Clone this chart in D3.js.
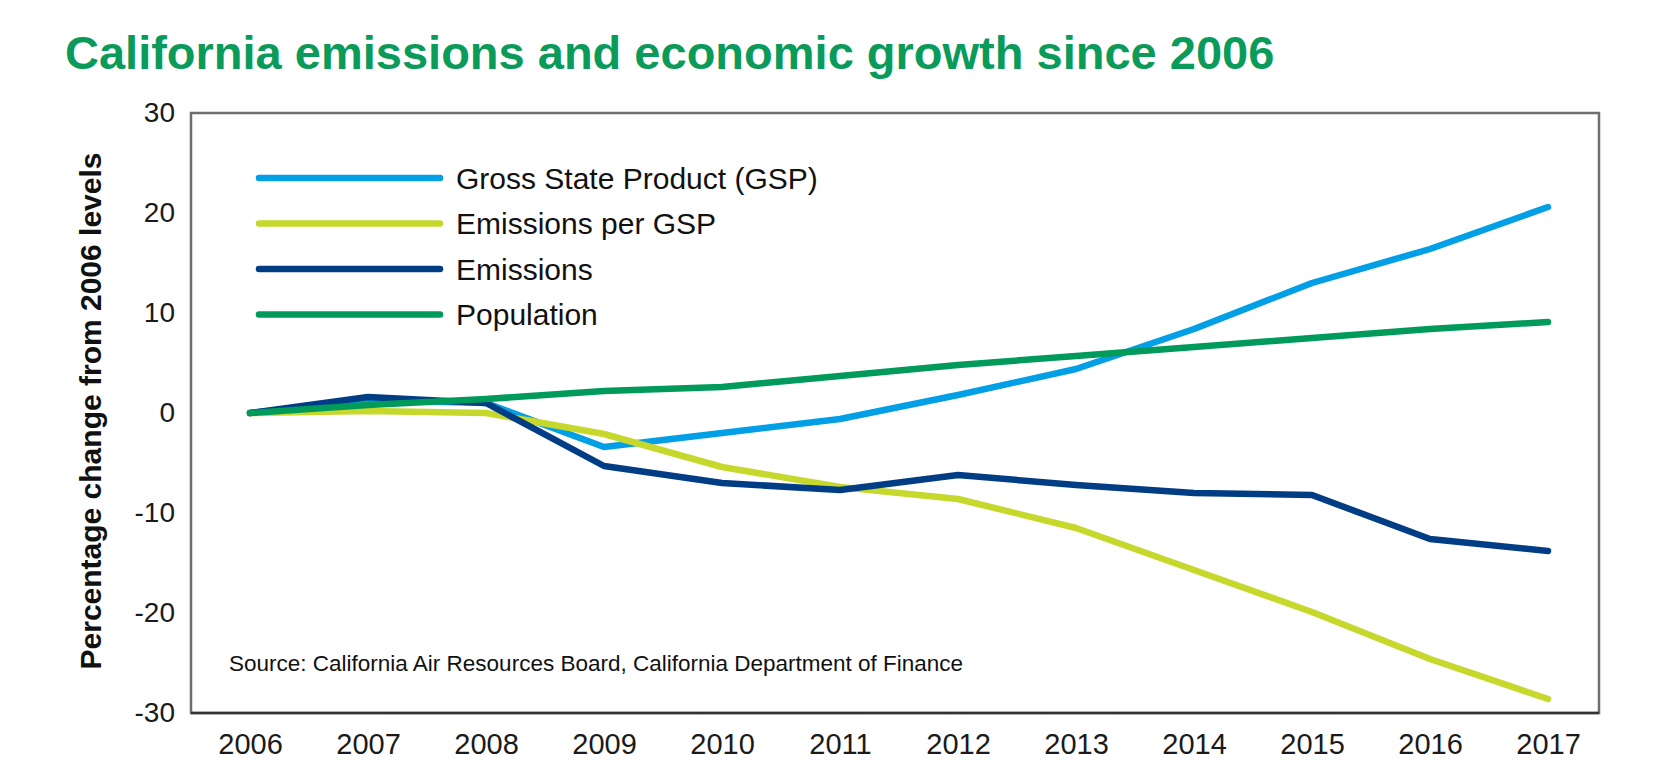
<!DOCTYPE html>
<html>
<head>
<meta charset="utf-8">
<script src="https://cdn.jsdelivr.net/npm/d3@7"></script>
<style>
body{margin:0;background:#fff;}
svg{font-family:"Liberation Sans",Arial,sans-serif;}
</style>
</head>
<body>
<svg></svg>
<script>
// data (percent change from 2006)
const years = ["2006","2007","2008","2009","2010","2011","2012","2013","2014","2015","2016","2017"];
const gsp = [0, 1.3, 1.0, -3.4, -2.0, -0.6, 1.8, 4.4, 8.4, 13.0, 16.4, 20.6];
const emissionsPerGsp = [0, 0.2, 0.0, -2.1, -5.4, -7.4, -8.6, -11.5, -15.7, -19.9, -24.6, -28.6];
const emissions = [0, 1.6, 1.0, -5.3, -7.0, -7.7, -6.2, -7.2, -8.0, -8.2, -12.6, -13.8];
const population = [0, 0.8, 1.4, 2.2, 2.6, 3.7, 4.8, 5.7, 6.6, 7.5, 8.4, 9.1];
const seriesNames = ["Gross State Product (GSP)","Emissions per GSP","Emissions","Population"];
const yTicks = [30, 20, 10, 0, -10, -20, -30];

const w = 1655, h = 780;
const plotLeft = 191, plotRight = 1599, plotTop = 113, plotBottom = 713;

const svg = d3.select("svg").attr("width", w).attr("height", h);

const series = [
  {name: seriesNames[0], values: gsp, color: "#009fe6"},
  {name: seriesNames[1], values: emissionsPerGsp, color: "#c5d82b"},
  {name: seriesNames[2], values: emissions, color: "#003d85"},
  {name: seriesNames[3], values: population, color: "#009a5b"}
];

const xScale = d3.scalePoint().domain(years).range([250, 1548]);
const yScale = d3.scaleLinear().domain([-30, 30]).range([plotBottom, plotTop]);

// title
svg.append("text")
  .attr("x", 65).attr("y", 69)
  .attr("font-size", 47).attr("font-weight", "bold")
  .attr("fill", "#0a9b5a")
  .text("California emissions and economic growth since 2006");

// frame
svg.append("rect")
  .attr("x", plotLeft).attr("y", plotTop)
  .attr("width", plotRight - plotLeft).attr("height", plotBottom - plotTop)
  .attr("fill", "none").attr("stroke", "#6e6e6e").attr("stroke-width", 2.5);

// axes (plain hyphen for negatives, like the original)
let yAxis = d3.axisLeft(yScale).tickValues(yTicks).tickSize(0).tickPadding(16).tickFormat(d => String(d));
let gy = svg.append("g").attr("transform", "translate(" + plotLeft + ",0)").call(yAxis);
gy.select(".domain").remove();
gy.selectAll("text").attr("font-size", 28).attr("fill", "#1a1a1a").attr("font-family", "Liberation Sans, Arial, sans-serif");

let xAxis = d3.axisBottom(xScale).tickSize(0).tickPadding(20);
let gx = svg.append("g").attr("transform", "translate(0," + plotBottom + ")").call(xAxis);
gx.select(".domain").attr("stroke", "#333").attr("stroke-width", 2.5).attr("d", "M" + plotLeft + ",0H" + plotRight);
gx.selectAll("text").attr("font-size", 29).attr("fill", "#1a1a1a").attr("font-family", "Liberation Sans, Arial, sans-serif");

// y title
svg.append("text")
  .attr("transform", "translate(101,411) rotate(-90)")
  .attr("text-anchor", "middle")
  .attr("font-size", 30).attr("font-weight", "bold").attr("fill", "#111")
  .text("Percentage change from 2006 levels");

// lines
const line = d3.line()
  .x((d, i) => xScale(years[i]))
  .y(d => yScale(d));

svg.selectAll(".series")
  .data(series)
  .enter()
  .append("path")
  .attr("class", "series")
  .attr("d", d => line(d.values))
  .attr("fill", "none")
  .attr("stroke", d => d.color)
  .attr("stroke-width", 6.5)
  .attr("stroke-linecap", "round")
  .attr("stroke-linejoin", "round");

// legend
const legend = svg.selectAll(".legend")
  .data(series)
  .enter()
  .append("g")
  .attr("class", "legend")
  .attr("transform", (d, i) => "translate(0," + (178 + i * 45.5) + ")");

legend.append("line")
  .attr("x1", 259).attr("x2", 440)
  .attr("stroke", d => d.color)
  .attr("stroke-width", 6.5)
  .attr("stroke-linecap", "round");

legend.append("text")
  .attr("x", 456).attr("dy", "0.35em")
  .attr("font-size", 30).attr("fill", "#111")
  .text(d => d.name);

// source
svg.append("text")
  .attr("x", 229).attr("y", 671)
  .attr("font-size", 22.5).attr("fill", "#111")
  .text("Source: California Air Resources Board, California Department of Finance");
</script>
</body>
</html>
